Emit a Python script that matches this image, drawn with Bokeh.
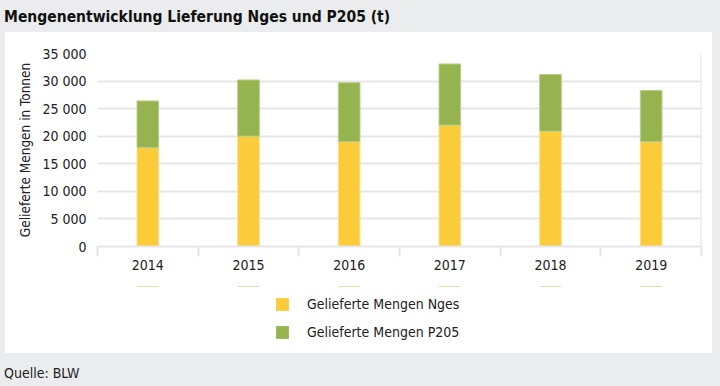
from bokeh.plotting import figure
from bokeh.models import (FixedTicker, Legend, LegendItem, Range1d, Span, Div,
                          ColumnDataSource)
from bokeh.layouts import column
from bokeh.embed import file_html
from bokeh.resources import INLINE

years = ["2014", "2015", "2016", "2017", "2018", "2019"]
nges = [17900, 20000, 19000, 22000, 20900, 19000]
p2o5 = [8500, 10200, 10700, 11100, 10300, 9300]
series_names = ["Gelieferte Mengen Nges", "Gelieferte Mengen P205"]
y_ticks = [0, 5000, 10000, 15000, 20000, 25000, 30000, 35000]
y_tick_labels = ["0", "5 000", "10 000", "15 000", "20 000", "25 000", "30 000", "35 000"]
title_text = "Mengenentwicklung Lieferung Nges und P205 (t)"
y_label = "Gelieferte Mengen in Tonnen"
source_text = "Quelle: BLW"

YELLOW = "#fccb3a"
GREEN = "#95b44f"
EDGES = ["#fde08c", "#b9cf86"]
GRAY_BG = "#ebecee"
GRID = "#e6e6e6"
FONT = "DejaVu Sans Condensed"
TXT = "#222222"

xs = [i + 0.5 for i in range(len(years))]
data = dict(x=xs, nges=nges, p2o5=p2o5)

# ---------------- main chart ----------------
p = figure(width=707, height=254, output_backend="svg", toolbar_location=None,
           x_range=Range1d(0, len(years)), y_range=Range1d(0, 35000),
           min_border_left=92, min_border_right=11, min_border_top=21, min_border_bottom=40,
           margin=(0, 8, 0, 5), styles={"background-color": "white"})
p.border_fill_color = "white"
p.background_fill_color = "white"
p.outline_line_color = None

p.vbar_stack(["nges", "p2o5"], x="x", width=0.215, source=ColumnDataSource(data),
             color=[YELLOW, GREEN], line_color=EDGES, line_width=1)

xa = p.xaxis[0]
xa.ticker = FixedTicker(ticks=xs, minor_ticks=list(range(len(years) + 1)))
xa.major_label_overrides = {x: y for x, y in zip(xs, years)}
xa.major_tick_line_color = None
xa.major_tick_in = 0
xa.major_tick_out = 0
xa.minor_tick_line_color = GRID
xa.minor_tick_line_width = 2
xa.minor_tick_in = 0
xa.minor_tick_out = 10
xa.axis_line_color = GRID
xa.axis_line_width = 2
xa.major_label_standoff = 3
xa.major_label_text_font = FONT
xa.major_label_text_font_size = "14px"
xa.major_label_text_color = TXT

ya = p.yaxis[0]
ya.ticker = FixedTicker(ticks=y_ticks)
ya.major_label_overrides = {t: l for t, l in zip(y_ticks, y_tick_labels)}
ya.axis_line_color = None
ya.major_tick_line_color = None
ya.major_tick_in = 0
ya.major_tick_out = 0
ya.minor_tick_line_color = None
ya.major_label_standoff = 11
ya.major_label_text_font = FONT
ya.major_label_text_font_size = "14px"
ya.major_label_text_color = TXT
ya.axis_label = y_label
ya.axis_label_text_font = FONT
ya.axis_label_text_font_size = "13.5px"
ya.axis_label_text_font_style = "normal"
ya.axis_label_text_color = TXT
ya.axis_label_standoff = 6

p.add_layout(Span(location=len(years), dimension="height", line_color=GRID, line_width=2))

p.xgrid.grid_line_color = None
p.ygrid.ticker = FixedTicker(ticks=y_ticks)
p.ygrid.grid_line_color = GRID
p.ygrid.grid_line_width = 2

# ---------------- legend strip ----------------
pl = figure(width=707, height=67, output_backend="svg", toolbar_location=None,
            x_range=Range1d(0, len(years)), y_range=Range1d(-2000000, -1000000),
            x_axis_location=None, y_axis_location=None,
            min_border_left=92, min_border_right=11, min_border_top=0, min_border_bottom=0,
            margin=(0, 8, 0, 5), styles={"background-color": "white"})
pl.border_fill_color = "white"
pl.background_fill_color = "white"
pl.outline_line_color = None
pl.grid.grid_line_color = None
lr = pl.vbar_stack(["nges", "p2o5"], x="x", width=0.215, source=ColumnDataSource(data),
                   fill_color=[YELLOW, GREEN], line_color=None)
legend = Legend(items=[LegendItem(label=series_names[i], renderers=[lr[i]]) for i in range(2)],
                location=(177, 13), orientation="vertical", glyph_width=16, glyph_height=16,
                label_height=16, spacing=12, label_standoff=17, padding=0, margin=0,
                border_line_color=None, background_fill_alpha=0,
                label_text_font=FONT, label_text_font_size="14px", label_text_color=TXT)
pl.add_layout(legend)

title = Div(text=(f'<div style="padding:8px 0 0 4px; font-family:\'{FONT}\'; font-size:15.5px; '
                  f'font-weight:bold; color:#111111; line-height:18px; white-space:nowrap">'
                  f'{title_text}</div>'),
            width=720, height=32, margin=0)
source = Div(text=(f'<div style="padding:12px 0 0 4px; font-family:\'{FONT}\'; font-size:14px; '
                   f'color:{TXT}; line-height:16px; white-space:nowrap">{source_text}</div>'),
             width=720, height=33, margin=0)

layout = column(title, p, pl, source, width=720, height=386, spacing=0,
                styles={"background-color": GRAY_BG})

open("out.html", "w").write(file_html(layout, INLINE))
